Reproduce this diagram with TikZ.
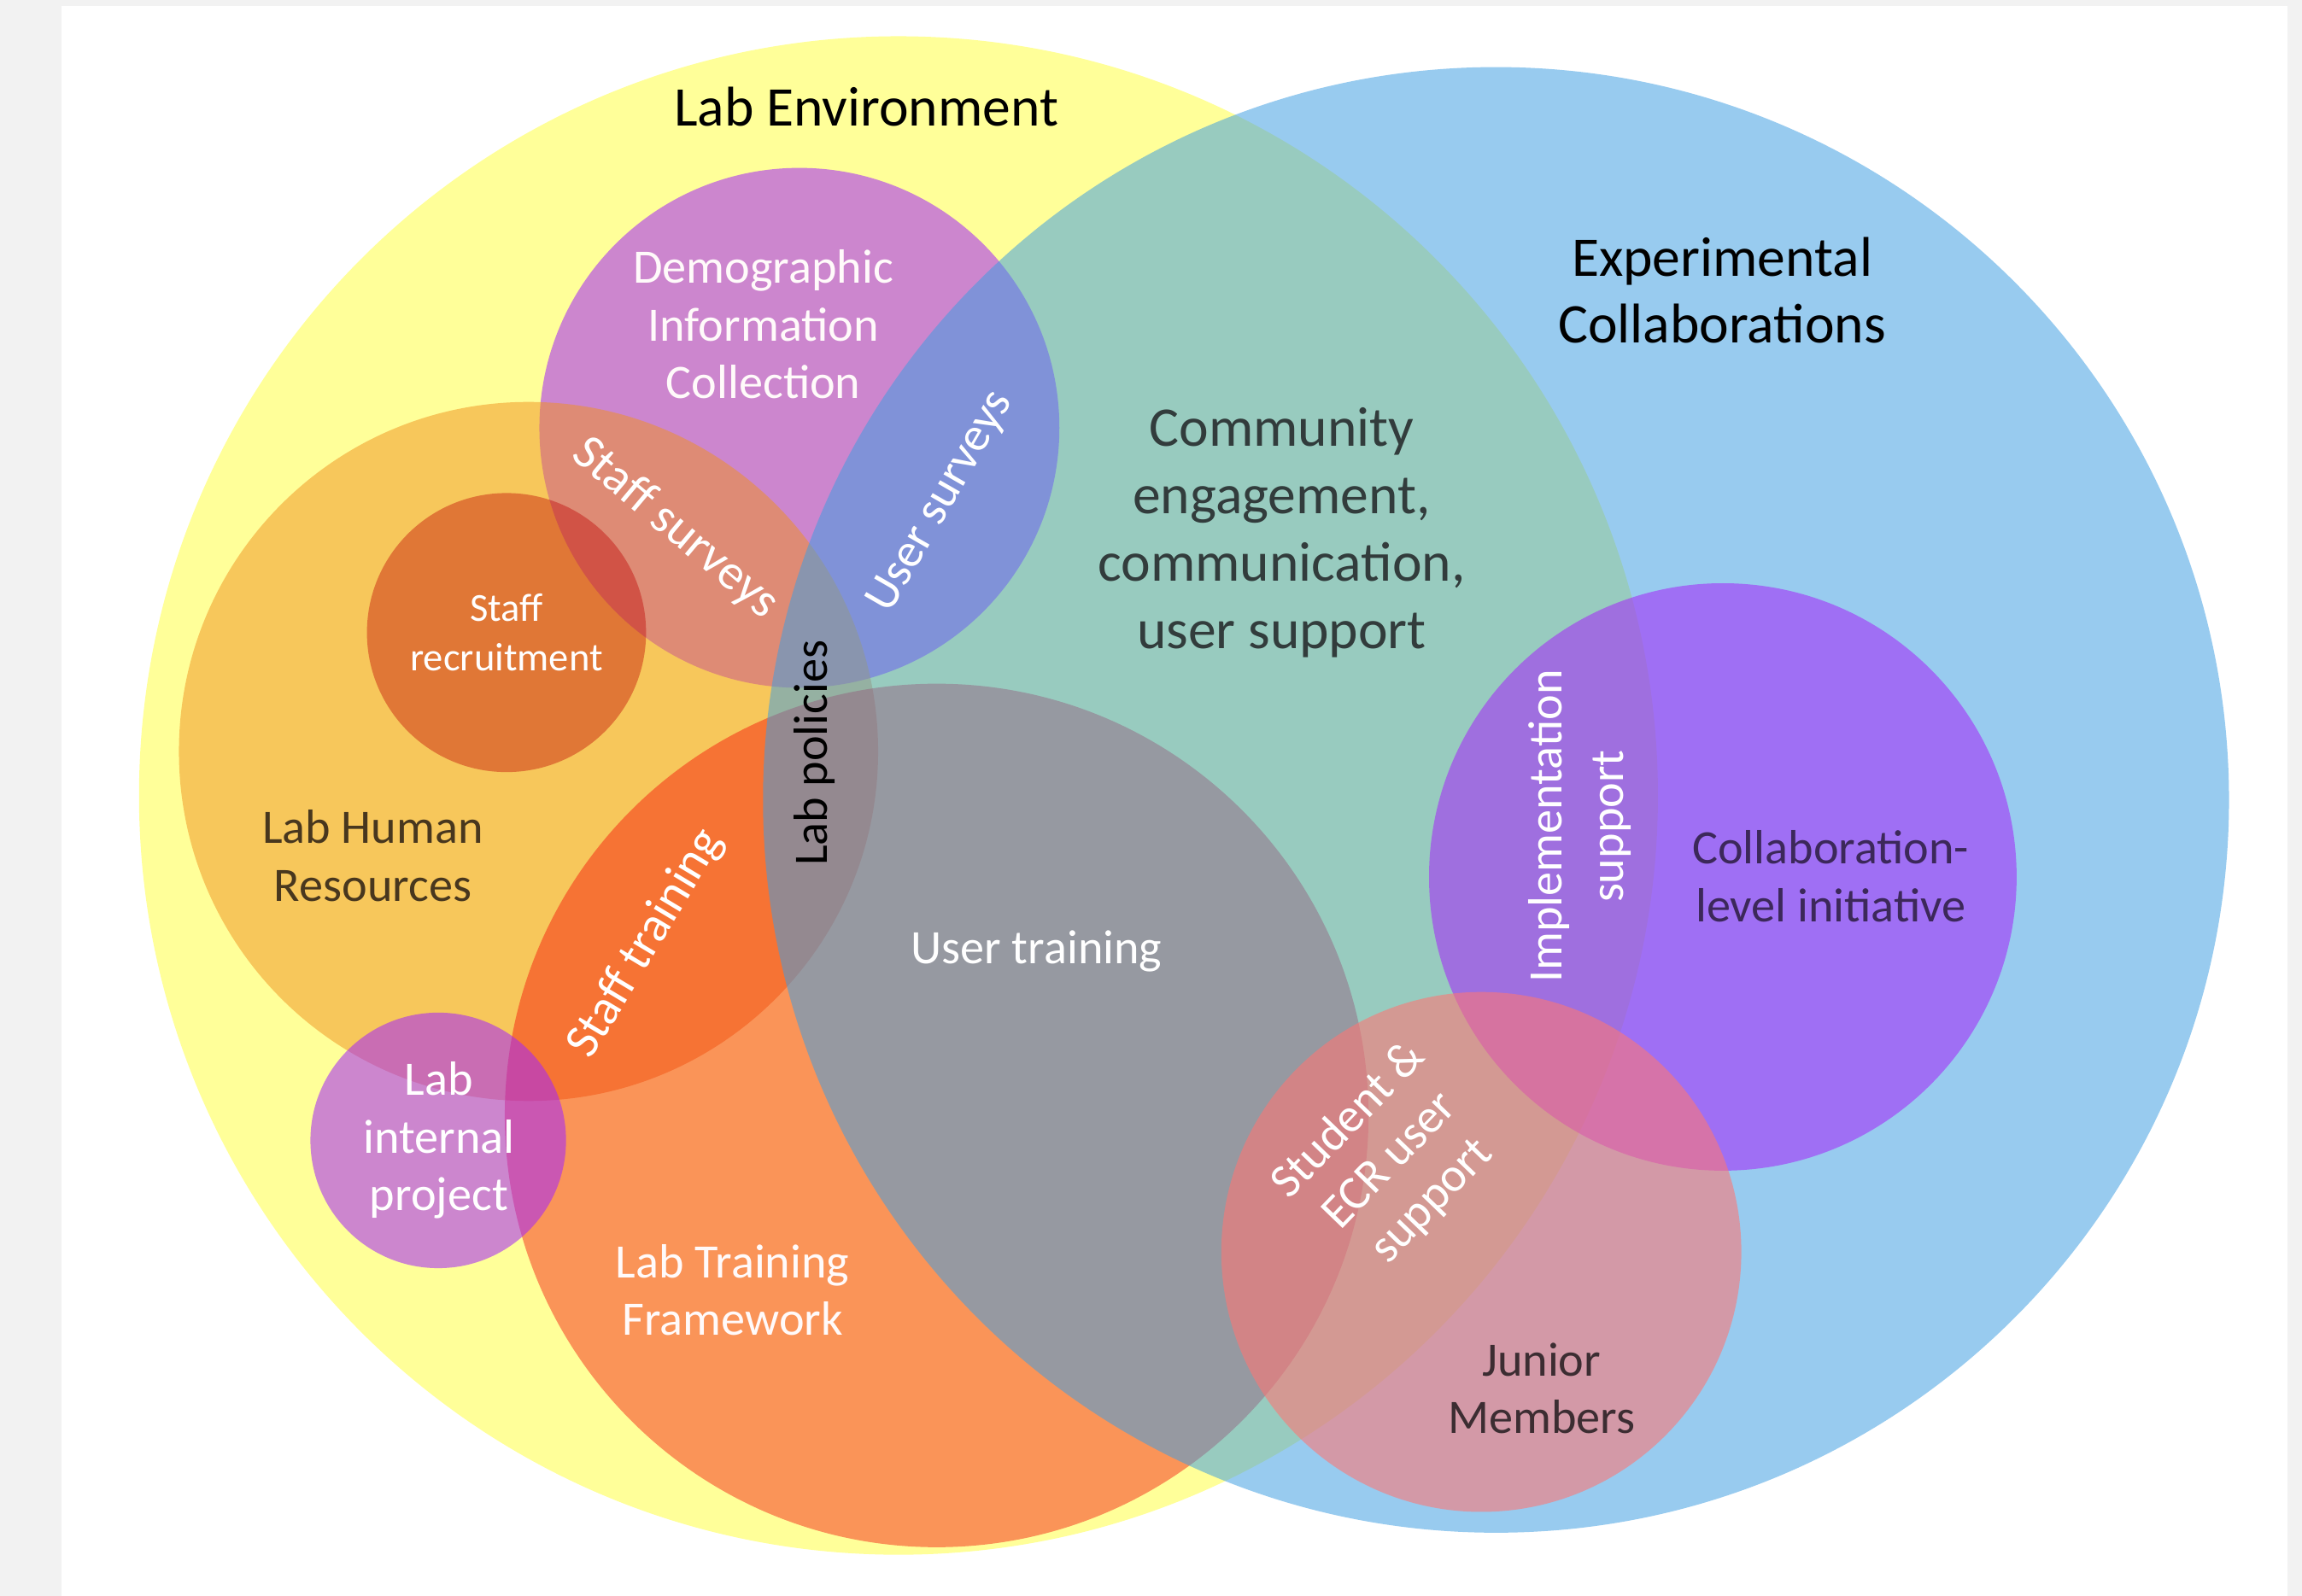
\documentclass[tikz,border=0pt]{standalone}
\usepackage{fontspec}
\setmainfont{Carlito}
\definecolor{cbg}{RGB}{242,242,242}
\definecolor{cyellow}{RGB}{255,255,153}
\definecolor{cpurple}{RGB}{165,40,249}
\definecolor{chr}{RGB}{240,145,30}
\definecolor{csr}{RGB}{190,0,0}
\definecolor{ctrain}{RGB}{245,0,0}
\definecolor{cblue}{RGB}{62,158,226}
\definecolor{cjunior}{RGB}{255,118,116}
\definecolor{tcomm}{RGB}{50,60,60}
\definecolor{thr}{RGB}{72,55,30}
\definecolor{tcoll}{RGB}{60,40,90}
\definecolor{tjun}{RGB}{60,45,50}
\definecolor{twhite}{RGB}{255,250,250}
\begin{document}
\begin{tikzpicture}[x=0.01cm,y=-0.01cm,
  venn/.style={circle, inner sep=0pt, outer sep=0pt, draw=none, minimum size=#1},
  title/.style={align=center, inner sep=0pt, text=black, font=\fontsize{10.85pt}{12.9pt}\selectfont},
  body/.style={align=center, inner sep=0pt, font=\fontsize{9.3pt}{11.2pt}\selectfont},
  small/.style={align=center, inner sep=0pt, font=\fontsize{7.7pt}{9.7pt}\selectfont}]
% canvas
\useasboundingbox (0,0) rectangle (1568,1087.4);
\fill[cbg] (0,0) rectangle (1568,1087.4);
\fill[white] (41.9,4.1) rectangle (1558.1,1087.4);
% circles (bottom to top)
\node[venn=10.34cm, fill=cyellow] (env) at (612,542) {};
\node[venn=3.54cm, fill=cpurple, fill opacity=0.56] (dic) at (544.5,291.5) {};
\node[venn=4.76cm, fill=chr, fill opacity=0.5] (hr) at (360,512) {};
\node[venn=1.90cm, fill=csr, fill opacity=0.4] (sr) at (345,431) {};
\node[venn=5.88cm, fill=ctrain, fill opacity=0.42] (ltf) at (638,760) {};
\node[venn=1.74cm, fill=cpurple, fill opacity=0.56] (lip) at (298.5,777) {};
\node[venn=9.98cm, fill=cblue, fill opacity=0.53] (exp) at (1019,545) {};
\node[venn=4.00cm, fill=cpurple, fill opacity=0.56] (cli) at (1173.5,597.5) {};
\node[venn=3.54cm, fill=cjunior, fill opacity=0.58] (jm) at (1009,853) {};
% labels
\node[title] (t-env) at (590,73) {Lab Environment};
\node[title] (t-exp) at (1173,198) {Experimental\\Collaborations};
\node[title, text=tcomm, font=\fontsize{10.85pt}{13.1pt}\selectfont] (t-comm) at (873,363) {Community\\engagement,\\communication,\\user support};
\node[body, text=twhite] (t-dic) at (520,221) {Demographic\\Information\\Collection};
\node[body, text=white, rotate=-40, font=\fontsize{9.6pt}{11.2pt}\selectfont] (t-ss) at (460,360) {Staff surveys};
\node[body, text=white, rotate=60] (t-us) at (641,342) {User surveys};
\node[small, text=white] (t-sr) at (345,431) {Staff\\recruitment};
\node[body, text=black, rotate=90] (t-lp) at (555,513) {Lab policies};
\node[body, text=thr] (t-hr) at (254,583) {Lab Human\\Resources};
\node[body, text=white, rotate=59, font=\fontsize{9.6pt}{11.2pt}\selectfont] (t-st) at (440,643) {Staff training};
\node[body, text=white] (t-ut) at (706,648) {User training};
\node[body, text=white] (t-lip) at (299,777) {Lab\\internal\\project};
\node[body, text=twhite] (t-ltf) at (499,879) {Lab Training\\Framework};
\node[body, text=white, rotate=90, font=\fontsize{9.3pt}{12pt}\selectfont] (t-impl) at (1076,563) {Implementation\\support};
\node[body, text=tcoll] (t-cli) at (1247,597) {Collaboration-\\level initiative};
\node[body, text=white, rotate=46] (t-ecr) at (947,791) {Student \&\\ECR user\\support};
\node[body, text=tjun] (t-jm) at (1050,946) {Junior\\Members};
\end{tikzpicture}
\end{document}
